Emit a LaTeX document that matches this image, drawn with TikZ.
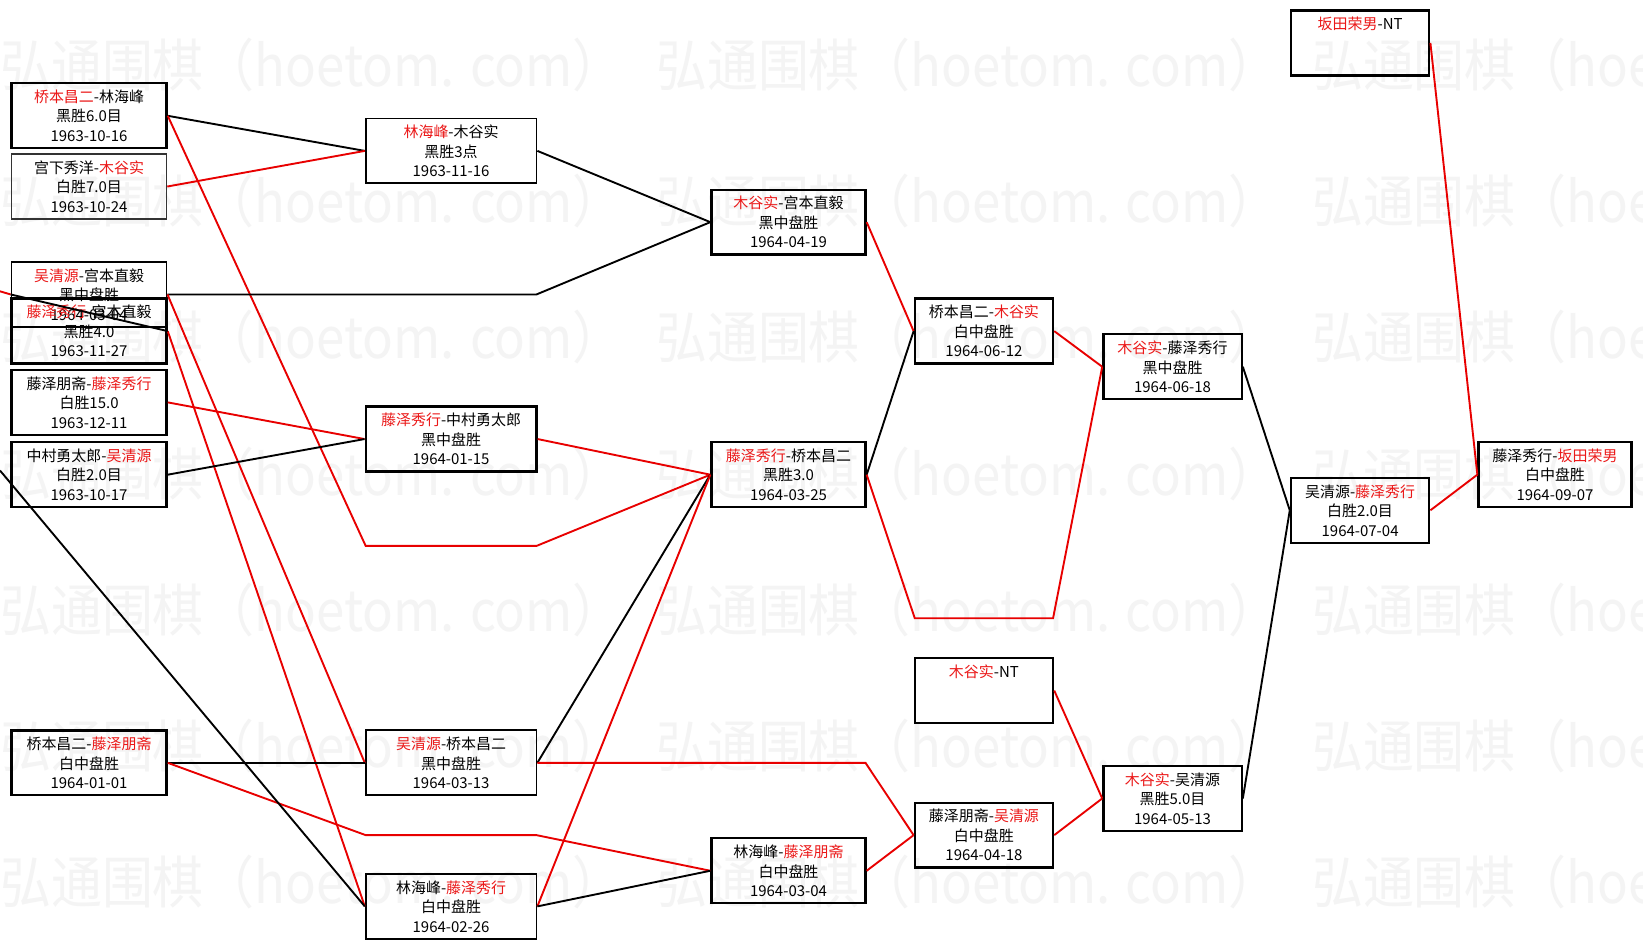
\documentclass[tikz,border=0pt]{standalone}
\usepackage{fontspec}
\setmainfont{Noto Sans CJK SC}
\definecolor{wred}{RGB}{232,0,0}
\definecolor{tred}{RGB}{235,24,24}
\definecolor{wmark}{RGB}{244,244,244}
\newcommand{\rn}[1]{\textcolor{tred}{#1}}
\newcommand{\gamefont}{\fontsize{14.3}{18.6}\selectfont}
\tikzset{
  game/.style={draw=black, line width=2.2pt, minimum height=62pt, inner sep=0pt, align=center, font=\gamefont},
  lightbox/.style={line width=1.3pt, draw=black!80},
  midbox/.style={line width=1.7pt},
  wm/.style={anchor=west, inner sep=0pt, text=wmark, font=\fontsize{54}{54}\selectfont},
  winline/.style={draw=wred, line width=1.8pt},
  loseline/.style={draw=black, line width=1.8pt},
}
\begin{document}
\begin{tikzpicture}[x=1pt,y=-1pt]
\useasboundingbox[fill=white] (0,0) rectangle (1568,906);
% watermark
\foreach \r in {0,...,6}{
  \foreach \c in {0,1,2}{
    \node[wm] (wm\r\c) at (\c*626, 62+\r*130) {\scalebox{0.9}[1]{弘通围棋（hoetom. com）}};
  }
}
% column 1
\node[game, minimum width=148pt] (A) at (85,110.5) {\rn{桥本昌二}-林海峰\\黑胜6.0目\\1963-10-16};
\node[game, lightbox, minimum width=148pt] (B) at (85,178) {宫下秀洋-\rn{木谷实}\\白胜7.0目\\1963-10-24};
\node[game, midbox, minimum width=148pt] (C) at (85,281) {\rn{吴清源}-宫本直毅\\黑中盘胜\\1964-03-04};
\node[game, minimum width=148pt] (D) at (85,316) {\rn{藤泽秀行}-宫本直毅\\黑胜4.0\\1963-11-27};
\node[game, minimum width=148pt] (E) at (85,384) {藤泽朋斋-\rn{藤泽秀行}\\白胜15.0\\1963-12-11};
\node[game, minimum width=148pt] (F) at (85,453) {中村勇太郎-\rn{吴清源}\\白胜2.0目\\1963-10-17};
\node[game, minimum width=148pt] (I) at (85,728) {桥本昌二-\rn{藤泽朋斋}\\白中盘胜\\1964-01-01};
% column 2
\node[game, midbox, minimum width=163pt] (G) at (430.5,144) {\rn{林海峰}-木谷实\\黑胜3点\\1963-11-16};
\node[game, minimum width=163pt] (H) at (430.5,419) {\rn{藤泽秀行}-中村勇太郎\\黑中盘胜\\1964-01-15};
\node[game, midbox, minimum width=163pt] (J) at (430.5,728) {\rn{吴清源}-桥本昌二\\黑中盘胜\\1964-03-13};
\node[game, midbox, minimum width=163pt] (K) at (430.5,865) {林海峰-\rn{藤泽秀行}\\白中盘胜\\1964-02-26};
% column 3
\node[game, minimum width=147pt] (L) at (752.5,212) {\rn{木谷实}-宫本直毅\\黑中盘胜\\1964-04-19};
\node[game, minimum width=147pt] (M) at (752.5,453) {\rn{藤泽秀行}-桥本昌二\\黑胜3.0\\1964-03-25};
\node[game, minimum width=147pt] (P) at (752.5,831) {林海峰-\rn{藤泽朋斋}\\白中盘胜\\1964-03-04};
% column 4
\node[game, minimum width=132pt] (N) at (939,316) {桥本昌二-\rn{木谷实}\\白中盘胜\\1964-06-12};
\node[game, minimum width=132pt] (Q) at (939,659) {\rn{木谷实}-NT\\\phantom{0}\\\phantom{0}};
\node[game, minimum width=132pt] (R) at (939,797) {藤泽朋斋-\rn{吴清源}\\白中盘胜\\1964-04-18};
% column 5
\node[game, minimum width=132pt] (O) at (1119,350) {\rn{木谷实}-藤泽秀行\\黑中盘胜\\1964-06-18};
\node[game, minimum width=132pt] (S) at (1119,762) {\rn{木谷实}-吴清源\\黑胜5.0目\\1964-05-13};
% column 6
\node[game, minimum width=132pt] (T) at (1298,41) {\rn{坂田荣男}-NT\\\phantom{0}\\\phantom{0}};
\node[game, minimum width=132pt] (U) at (1298,487) {吴清源-\rn{藤泽秀行}\\白胜2.0目\\1964-07-04};
% column 7
\node[game, minimum width=146pt] (V) at (1484,453) {藤泽秀行-\rn{坂田荣男}\\白中盘胜\\1964-09-07};
% bend points
\coordinate (pA1) at (349,521); \coordinate (pA2) at (512,521);
\coordinate (pC1) at (349,281); \coordinate (pC2) at (512,281);
\coordinate (pI1) at (349,797); \coordinate (pI2) at (512,797);
\coordinate (pJ1) at (679,728); \coordinate (pJ2) at (826,728);
\coordinate (pM1) at (873,590); \coordinate (pM2) at (1005,590);
\coordinate (offR) at (0,278);
\coordinate (offK) at (0,449);
% connectors column 1 -> 2
\draw[loseline] (A.east) -- (G.west);
\draw[winline] (B.east) -- (G.west);
\draw[winline] (A.east) -- (pA1) -- (pA2) -- (M.west);
\draw[loseline] (C.east) -- (pC1) -- (pC2) -- (L.west);
\draw[winline] (C.east) -- (J.west);
\draw[winline] (D.east) -- (K.west);
\draw[winline] (offR) -- (C.west);
\draw[loseline] (D.east) -- (C.west);
\draw[winline] (E.east) -- (H.west);
\draw[loseline] (F.east) -- (H.west);
\draw[loseline] (I.east) -- (J.west);
\draw[winline] (I.east) -- (pI1) -- (pI2) -- (P.west);
\draw[loseline] (offK) -- (K.west);
% column 2 -> 3
\draw[loseline] (G.east) -- (L.west);
\draw[winline] (H.east) -- (M.west);
\draw[loseline] (J.east) -- (M.west);
\draw[winline] (K.east) -- (M.west);
\draw[loseline] (K.east) -- (P.west);
\draw[winline] (J.east) -- (pJ1) -- (pJ2) -- (R.west);
% column 3 -> 4
\draw[winline] (L.east) -- (N.west);
\draw[loseline] (M.east) -- (N.west);
\draw[winline] (M.east) -- (pM1) -- (pM2) -- (O.west);
\draw[winline] (P.east) -- (R.west);
% column 4 -> 5
\draw[winline] (N.east) -- (O.west);
\draw[winline] (Q.east) -- (S.west);
\draw[winline] (R.east) -- (S.west);
% column 5 -> 6
\draw[loseline] (O.east) -- (U.west);
\draw[loseline] (S.east) -- (U.west);
% column 6 -> 7
\draw[winline] (T.east) -- (V.west);
\draw[winline] (U.east) -- (V.west);
\end{tikzpicture}
\end{document}
